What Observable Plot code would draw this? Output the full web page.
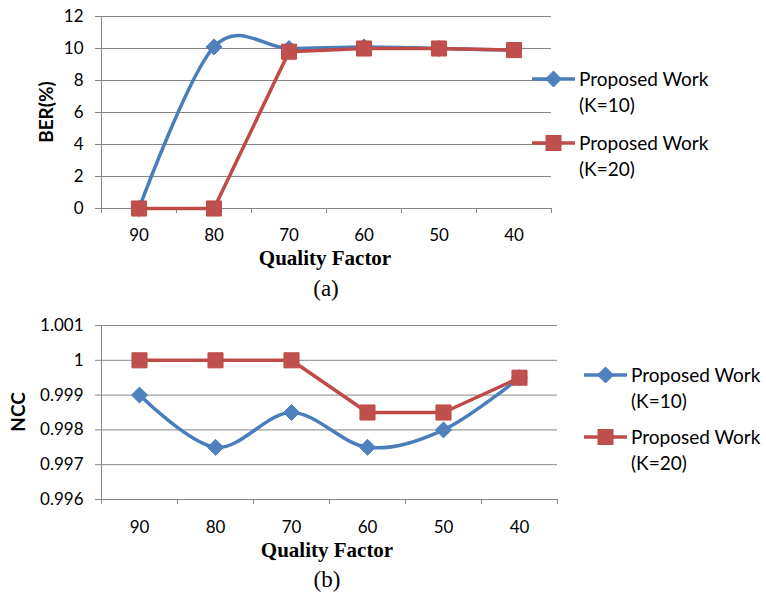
<!DOCTYPE html>
<html><head><meta charset="utf-8">
<script src="https://cdn.jsdelivr.net/npm/d3@7"></script>
<script src="https://cdn.jsdelivr.net/npm/@observablehq/plot@0.6"></script>
<style>
body{margin:0;background:#fff;}
#wrap{position:relative;width:766px;height:594px;overflow:hidden;font-family:Lato,sans-serif;color:#000;}
.abs{position:absolute;white-space:nowrap;}
.panel{position:absolute;left:0;}
.ytitle{font-weight:bold;font-size:19px;line-height:1;transform:translate(-50%,-50%) rotate(-90deg);}
.xtitle{font-family:"Liberation Serif",serif;font-weight:bold;font-size:21px;line-height:1;transform:translate(-50%,-50%);}
.cap{font-family:"Liberation Serif",serif;font-size:23px;line-height:1;transform:translate(-50%,-50%);}
.leg{font-size:19px;line-height:26px;}
</style></head><body><div id="wrap"></div>
<script>
const qualityFactors = ["90","80","70","60","50","40"];
const berK10 = [0, 10.1, 10, 10.1, 10, 9.9];
const berK20 = [0, 0, 9.8, 10, 10, 9.9];
const nccK10 = [0.999, 0.9975, 0.9985, 0.9975, 0.998, 0.9995];
const nccK20 = [1, 1, 1, 0.9985, 0.9985, 0.9995];
const berTicks = [0, 2, 4, 6, 8, 10, 12];
const nccTicks = [0.996, 0.997, 0.998, 0.999, 1, 1.001];
const seriesNames = ["Proposed Work", "(K=10)", "(K=20)"];

const BLUE_LINE = "#4A7EBB", BLUE_FILL = "#4F81BD";
const RED_LINE = "#BE4B48", RED_FILL = "#C0504D";
const GRID = "#868686";

function rows(vals) { return vals.map((v, i) => ({i, v})); }

function panel({k10, k20, ticks, domain, fmt, marginTop, marginBottom, marginRight, padX}) {
  const idx = d3.range(qualityFactors.length);
  const bounds = d3.range(qualityFactors.length + 1).map(d => d - 0.5);
  return Plot.plot({
    width: 766, height: 297,
    marginLeft: 101, marginRight, marginTop, marginBottom,
    style: {fontFamily: "Lato, sans-serif", fontSize: "17px", background: "transparent", overflow: "visible"},
    x: {domain: [-0.5, qualityFactors.length - 0.5]},
    y: {domain},
    marks: [
      Plot.gridY(ticks, {stroke: GRID, strokeOpacity: 1, strokeWidth: 1}),
      Plot.axisY(ticks, {tickSize: 6, tickPadding: 12, stroke: GRID, fill: "#000", tickFormat: fmt, fontSize: 17, label: null}),
      Plot.ruleX([-0.5], {stroke: GRID}),
      Plot.axisX(bounds, {tickSize: 5, stroke: GRID, tickFormat: () => "", label: null}),
      Plot.axisX(idx, {tickSize: 0, tickPadding: padX, tickFormat: i => qualityFactors[i], fill: "#000", fontSize: 17, label: null}),
      Plot.line(rows(k10), {x: "i", y: "v", curve: "cardinal", tension: 0, stroke: BLUE_LINE, strokeWidth: 3.5}),
      Plot.dot(rows(k10), {x: "i", y: "v", symbol: "diamond2", r: 7.2, fill: BLUE_FILL, stroke: BLUE_LINE, strokeWidth: 1}),
      Plot.line(rows(k20), {x: "i", y: "v", stroke: RED_LINE, strokeWidth: 3.5}),
      Plot.dot(rows(k20), {x: "i", y: "v", symbol: "square", r: 8.5, fill: RED_FILL, stroke: RED_LINE, strokeWidth: 1})
    ]
  });
}

const wrap = document.getElementById("wrap");
function place(el, top) { el.classList.add("panel"); el.style.top = top + "px"; wrap.appendChild(el); }

place(panel({k10: berK10, k20: berK20, ticks: berTicks, domain: [0, 12], fmt: d => String(d),
  marginTop: 16, marginBottom: 89, marginRight: 215, padX: 20}), 0);
place(panel({k10: nccK10, k20: nccK20, ticks: nccTicks, domain: [0.996, 1.001], fmt: d => String(+d.toFixed(3)),
  marginTop: 28, marginBottom: 95, marginRight: 209, padX: 21}), 297);

function label(cls, text, x, y) {
  const d = document.createElement("div");
  d.className = "abs " + cls; d.textContent = text;
  d.style.left = x + "px"; d.style.top = y + "px";
  wrap.appendChild(d);
}
label("ytitle", "BER(%)", 45, 112);
label("xtitle", "Quality Factor", 325, 258);
label("cap", "(a)", 326, 288);
label("ytitle", "NCC", 17, 412);
label("xtitle", "Quality Factor", 327, 550);
label("cap", "(b)", 327, 579);

function swatch(kind) {
  const ns = "http://www.w3.org/2000/svg";
  const svg = document.createElementNS(ns, "svg");
  svg.setAttribute("width", 43); svg.setAttribute("height", 18);
  const line = document.createElementNS(ns, "line");
  line.setAttribute("x1", 0); line.setAttribute("x2", 43); line.setAttribute("y1", 9); line.setAttribute("y2", 9);
  line.setAttribute("stroke", kind === "b" ? BLUE_LINE : RED_LINE); line.setAttribute("stroke-width", 3.5);
  svg.appendChild(line);
  let m;
  if (kind === "b") {
    m = document.createElementNS(ns, "path");
    m.setAttribute("d", "M21.5,1L29.5,9L21.5,17L13.5,9Z");
    m.setAttribute("fill", BLUE_FILL); m.setAttribute("stroke", BLUE_LINE);
  } else {
    m = document.createElementNS(ns, "rect");
    m.setAttribute("x", 14); m.setAttribute("y", 1.5); m.setAttribute("width", 15); m.setAttribute("height", 15);
    m.setAttribute("fill", RED_FILL); m.setAttribute("stroke", RED_LINE);
  }
  svg.appendChild(m);
  return svg;
}
function legendItem(kind, sub, lx, tx, cy) {
  const s = swatch(kind);
  s.style.position = "absolute"; s.style.left = lx + "px"; s.style.top = (cy - 9) + "px";
  wrap.appendChild(s);
  const d = document.createElement("div");
  d.className = "abs leg";
  d.style.left = tx + "px"; d.style.top = (cy - 13) + "px";
  d.innerHTML = seriesNames[0] + "<br>" + sub;
  wrap.appendChild(d);
}
legendItem("b", seriesNames[1], 532, 579, 79);
legendItem("r", seriesNames[2], 532, 579, 143);
legendItem("b", seriesNames[1], 584, 631, 375);
legendItem("r", seriesNames[2], 584, 631, 437);
</script></body></html>
